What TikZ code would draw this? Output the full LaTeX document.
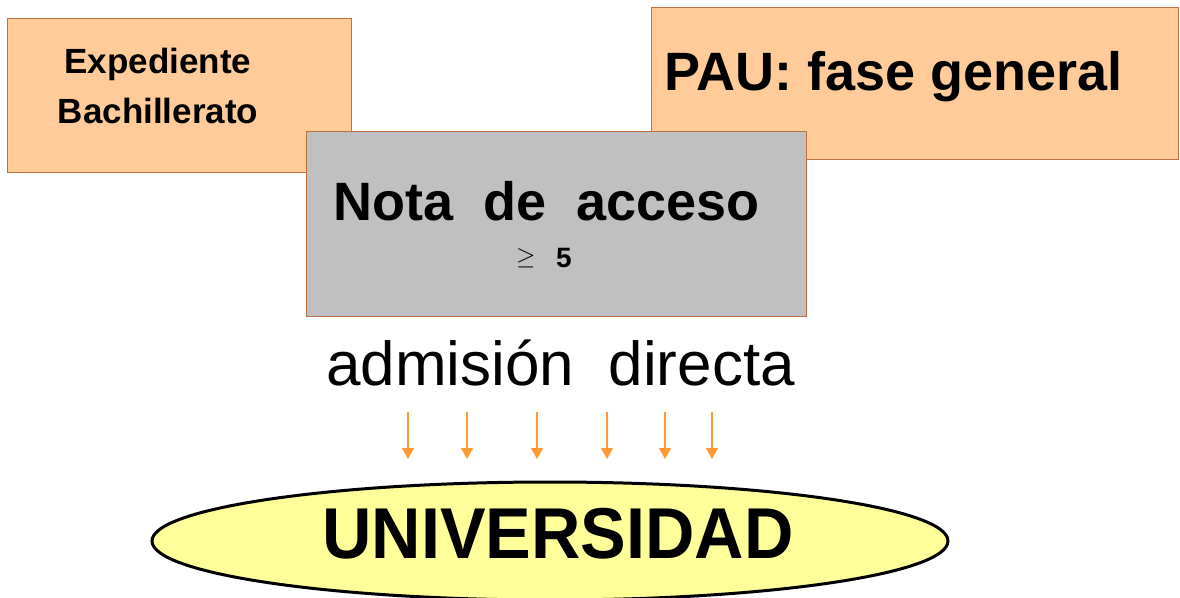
\documentclass[tikz,border=0pt]{standalone}
\usepackage{fontspec}
\setmainfont{Liberation Sans}
\newfontfamily\narrowsans[FakeStretch=0.95]{Liberation Sans}
\usetikzlibrary{arrows.meta,shapes.geometric}
\definecolor{peach}{RGB}{255,204,153}
\definecolor{boxedge}{RGB}{192,112,64}
\definecolor{boxgray}{RGB}{192,192,192}
\definecolor{paleyellow}{RGB}{255,255,153}
\definecolor{arroworange}{RGB}{255,153,51}
\tikzset{
  peachbox/.style={draw=boxedge, line width=1.3pt, fill=peach, rectangle, inner sep=0pt, anchor=north west},
  graybox/.style={draw=boxedge, line width=1.3pt, fill=boxgray, rectangle, inner sep=0pt, anchor=north west},
  txt/.style={inner sep=0pt, anchor=base west, text=black},
  downarrow/.style={draw=arroworange, line width=1.4pt, -{Triangle[width=12pt,length=11pt]}}
}
\begin{document}
\begin{tikzpicture}[x=1pt,y=-1pt]
\useasboundingbox (0,0) rectangle (1180,597);
% boxes
\node[peachbox, minimum width=344pt, minimum height=154pt] (exp) at (7,18) {};
\node[peachbox, minimum width=527pt, minimum height=152pt] (pau) at (651,7) {};
\node[graybox, minimum width=500pt, minimum height=185pt] (nota) at (306,131) {};
% texts
\node[txt, anchor=base] (exp1) at (158,73) {\fontsize{35}{40}\selectfont\bfseries Expediente};
\node[txt, anchor=base] (exp2) at (158,123) {\fontsize{35}{40}\selectfont\bfseries Bachillerato};
\node[txt] (pautxt) at (664,90) {\fontsize{54}{60}\selectfont\bfseries PAU: fase general};
\node[txt] (notatxt) at (333,220) {\fontsize{54}{60}\selectfont\bfseries Nota\ \ de\ \ acceso};
\node[txt] (geq) at (516,264) {\fontsize{28}{30}\selectfont$\geq$};
\node[txt] (five) at (556,267) {\fontsize{28}{30}\selectfont\bfseries 5};
\node[txt] (adm) at (326,385) {\fontsize{62}{70}\selectfont admisión\ \ directa};
% ellipse
\node[ellipse, draw=black, line width=3pt, fill=paleyellow, minimum width=796pt, minimum height=118pt, inner sep=0pt] (univ) at (550,541) {};
\node[txt, anchor=base] (univtxt) at (558,558) {\fontsize{72}{80}\narrowsans\bfseries UNIVERSIDAD};
% arrows
\foreach \i/\x in {1/408,2/467,3/537,4/607,5/665,6/712}{
  \coordinate (s\i) at (\x,412);
  \coordinate (e\i) at (\x,459);
  \draw[downarrow] (s\i) -- (e\i);
}
\end{tikzpicture}
\end{document}
